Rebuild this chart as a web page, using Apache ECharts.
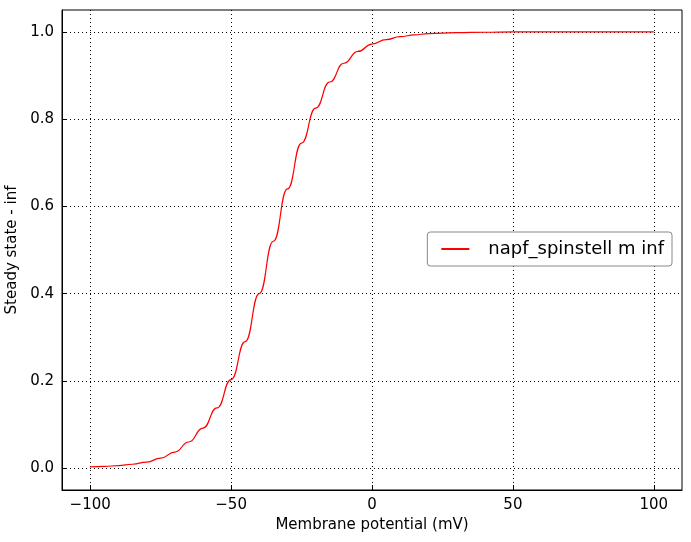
<!DOCTYPE html>
<html><head><meta charset="utf-8">
<script src="https://cdn.jsdelivr.net/npm/echarts@6/dist/echarts.min.js"></script>
<style>html,body{margin:0;padding:0;background:#fff}#c{width:691px;height:542px}</style>
</head><body><div id="c"></div>
<script>
const voltages=[-100,-95,-90,-85,-80,-75,-70,-65,-60,-55,-50,-45,-40,-35,-30,-25,-20,-15,-10,-5,0,5,10,15,20,30,40,50,75,100];
const minf=[0.003,0.004,0.006,0.009,0.014,0.023,0.037,0.06,0.092,0.138,0.203,0.29,0.4,0.52,0.64,0.745,0.825,0.885,0.928,0.955,0.972,0.982,0.989,0.993,0.996,0.998,0.999,1.0,1.0,1.0];
const xTicks=[-100,-50,0,50,100];
const yTicks=[0,0.2,0.4,0.6,0.8,1.0];
const seriesName='napf_spinstell m inf';
const fmtX=v=>String(v).replace('-','\u2212');
const c=echarts.init(document.getElementById('c'));
const ax={axisLine:{show:true,onZero:false,lineStyle:{color:'#000'}},
 axisTick:{inside:true,length:5,lineStyle:{color:'#000'}},
 splitLine:{show:true,lineStyle:{color:'#000',type:[1,3]}},
 nameTextStyle:{color:'#000',fontSize:15,fontFamily:'DejaVu Sans'}};
c.setOption({
 animation:false,
 grid:{left:62,right:9,top:10,bottom:52,show:true,borderColor:'#000',borderWidth:1,containLabel:false,outerBoundsMode:'none'},
 legend:{data:[seriesName],right:19,top:232,orient:'vertical',backgroundColor:'#fff',borderColor:'#888',borderWidth:1,borderRadius:3,padding:[8,8,8,14],itemWidth:28,itemHeight:2,itemGap:10,
  textStyle:{fontSize:18,fontFamily:'DejaVu Sans',color:'#000',padding:[0,0,0,14]},icon:'rect'},
 xAxis:Object.assign({type:'value',min:-110,max:110,name:'Membrane potential (mV)',nameLocation:'middle',nameGap:28,
  axisLabel:{customValues:xTicks,formatter:fmtX,color:'#000',fontSize:15,fontFamily:'DejaVu Sans',margin:8},
  axisTick:Object.assign({},ax.axisTick,{customValues:xTicks}),
  splitLine:ax.splitLine},{axisLine:ax.axisLine,nameTextStyle:ax.nameTextStyle}),
 yAxis:Object.assign({type:'value',min:-0.05,max:1.05,name:'Steady state - inf',nameLocation:'middle',nameGap:38,
  axisLabel:{customValues:yTicks,formatter:v=>v.toFixed(1),color:'#000',fontSize:15,fontFamily:'DejaVu Sans',margin:8},
  axisTick:Object.assign({},ax.axisTick,{customValues:yTicks}),
  splitLine:ax.splitLine},{axisLine:ax.axisLine,nameTextStyle:ax.nameTextStyle}),
 series:[{name:seriesName,type:'line',smooth:0.5,smoothMonotone:'x',showSymbol:false,lineStyle:{color:'#ff0000',width:1.2},itemStyle:{color:'#ff0000'},
  data:voltages.map((v,i)=>[v,minf[i]])}]
});
</script></body></html>
